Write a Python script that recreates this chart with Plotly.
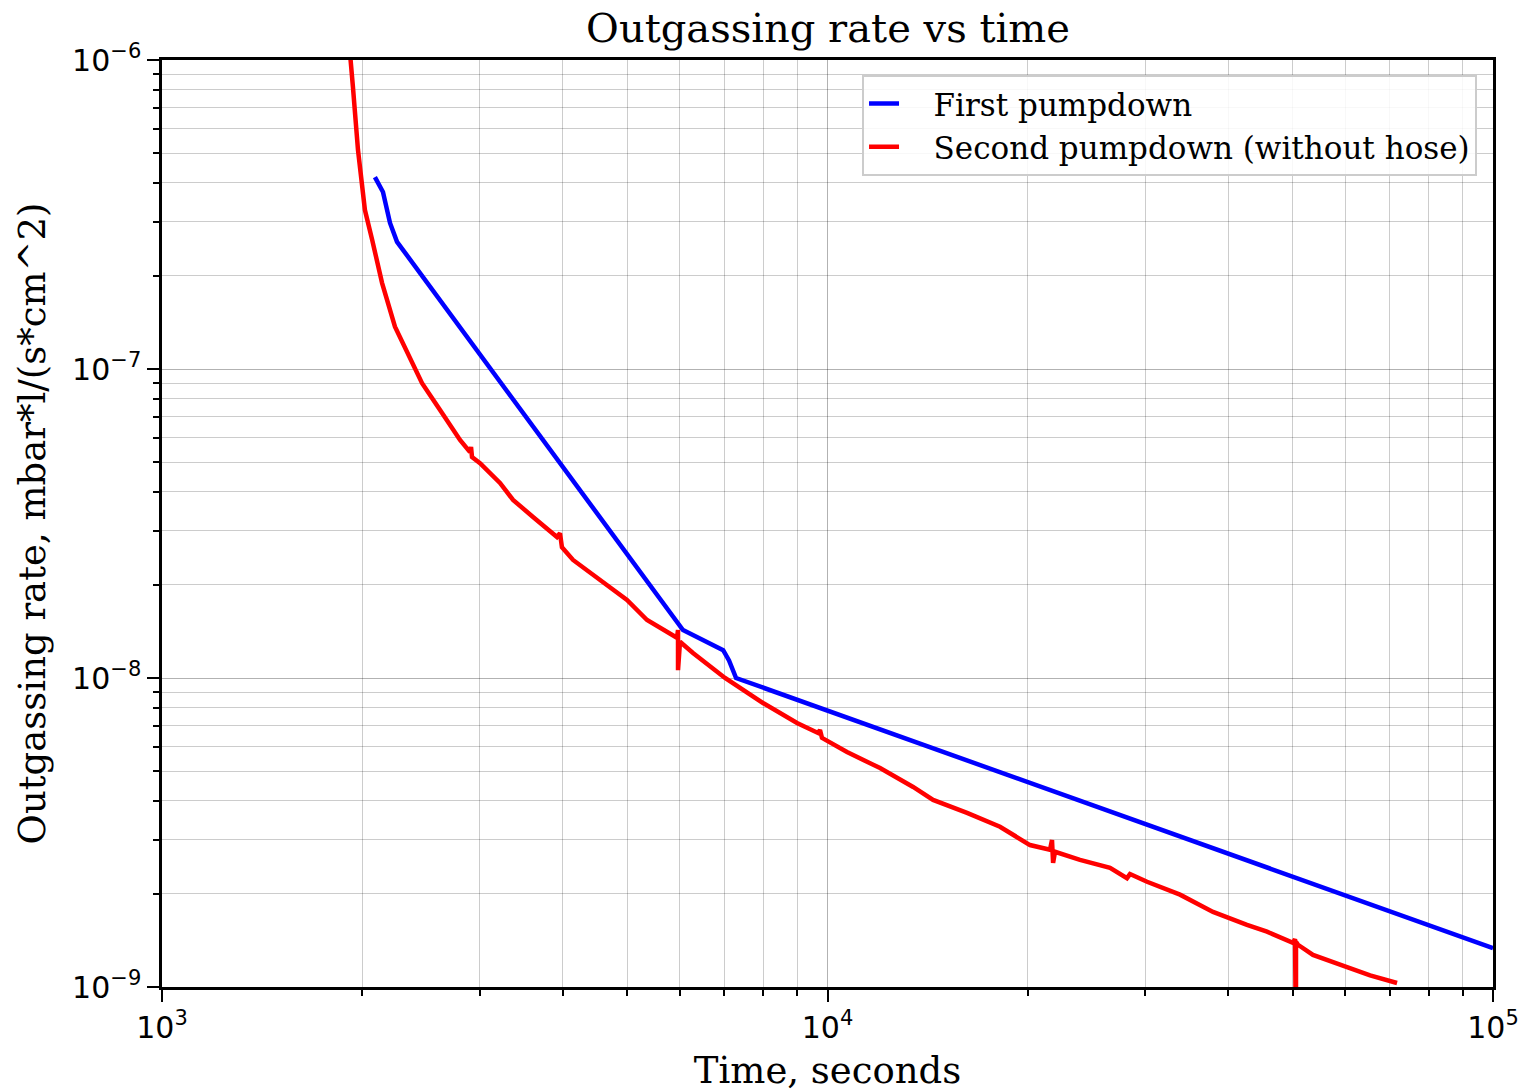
import plotly.graph_objects as go

# First pumpdown
t1 = [2089, 2148, 2201, 2255, 6065, 6970, 7112, 7288, 100000]
r1 = [4.18e-7, 3.74e-7, 2.97e-7, 2.58e-7, 1.43e-8, 1.23e-8, 1.14e-8, 1.0e-8, 1.336e-9]

# Second pumpdown (without hose)
t2 = [1903, 1917, 1936, 1970, 2018, 2069, 2141, 2239, 2334, 2459, 2617, 2804, 2903, 2913, 2923,
      3005, 3220, 3369, 3610, 3922, 3963, 3990, 4146, 4551, 4997, 5356, 5940, 5962, 5962, 6003,
      6279, 7015, 8000, 9000, 9677, 9744, 9810, 10698, 11994, 13448, 14410, 16206, 18163, 20150,
      21594, 21745, 21826, 21974, 23955, 26580, 28184, 28478, 30210, 33860, 36670, 37960, 42690,
      45750, 50060, 50410, 50580, 50580, 50930, 53640, 60350, 65360, 71750]
r2 = [1.25e-6, 1.0e-6, 8.18e-7, 5.12e-7, 3.27e-7, 2.62e-7, 1.90e-7, 1.37e-7, 1.13e-7, 9.0e-8,
      7.37e-8, 5.89e-8, 5.38e-8, 5.59e-8, 5.19e-8,
      4.96e-8, 4.28e-8, 3.77e-8, 3.32e-8, 2.86e-8, 2.94e-8, 2.65e-8, 2.41e-8, 2.08e-8, 1.79e-8,
      1.54e-8, 1.35e-8, 1.43e-8, 1.06e-8, 1.31e-8,
      1.205e-8, 1.0e-8, 8.3e-9, 7.15e-9, 6.64e-9, 6.79e-9, 6.40e-9, 5.76e-9, 5.11e-9, 4.44e-9,
      4.03e-9, 3.66e-9, 3.30e-9, 2.88e-9,
      2.78e-9, 2.99e-9, 2.52e-9, 2.74e-9, 2.58e-9, 2.43e-9, 2.25e-9, 2.32e-9, 2.19e-9, 1.99e-9,
      1.82e-9, 1.75e-9, 1.59e-9,
      1.51e-9, 1.39e-9, 1.43e-9, 6.3e-10, 1.40e-9, 1.37e-9, 1.27e-9, 1.16e-9, 1.09e-9, 1.03e-9]

x_ticks = [1e3, 1e4, 1e5]
x_tick_text = ["10<sup>3</sup>", "10<sup>4</sup>", "10<sup>5</sup>"]
y_ticks = [1e-9, 1e-8, 1e-7, 1e-6]
y_tick_text = ["10<sup>\u22129</sup>", "10<sup>\u22128</sup>", "10<sup>\u22127</sup>", "10<sup>\u22126</sup>"]
minor_mult = [2, 3, 4, 5, 6, 7, 8, 9]
x_minor = [m * d for d in [1e3, 1e4] for m in minor_mult]
y_minor = [m * d for d in [1e-9, 1e-8, 1e-7] for m in minor_mult]

FONT = "DejaVu Serif"
TICKFONT = "DejaVu Sans"
PAD = "\u00a0\u00a0\u00a0"

fig = go.Figure()
fig.add_trace(go.Scatter(x=t1, y=r1, mode="lines", name=PAD + "First pumpdown",
                         line=dict(color="#0000ff", width=4.5)))
fig.add_trace(go.Scatter(x=t2, y=r2, mode="lines", name=PAD + "Second pumpdown (without hose)",
                         line=dict(color="#ff0000", width=4.5)))

axis_common = dict(
    showline=True, linecolor="black", linewidth=2.5, mirror=True,
    ticks="outside", ticklen=12, tickwidth=2, tickcolor="black",
    showgrid=True, gridcolor="rgba(0,0,0,0.3)", gridwidth=1,
    zeroline=False, automargin=False,
    tickfont=dict(family=TICKFONT, size=30, color="black"),
)

fig.update_xaxes(type="log", range=[3, 5], tickvals=x_ticks, ticktext=x_tick_text,
                 minor=dict(tickvals=x_minor, ticks="outside", ticklen=6, tickwidth=1.5,
                            tickcolor="black", showgrid=True,
                            gridcolor="rgba(0,0,0,0.2)", gridwidth=1),
                 title=dict(text="Time, seconds", font=dict(family=FONT, size=37, color="black"),
                            standoff=14),
                 **axis_common)
fig.update_yaxes(type="log", range=[-9, -6], tickvals=y_ticks, ticktext=y_tick_text,
                 minor=dict(tickvals=y_minor, ticks="outside", ticklen=6, tickwidth=1.5,
                            tickcolor="black", showgrid=True,
                            gridcolor="rgba(0,0,0,0.2)", gridwidth=1),
                 title=dict(text="Outgassing rate, mbar*l/(s*cm^2)",
                            font=dict(family=FONT, size=37, color="black"), standoff=16),
                 **axis_common)

fig.update_layout(
    width=1527, height=1084,
    margin=dict(l=154, r=42, t=52, b=105),
    paper_bgcolor="white", plot_bgcolor="white",
    title=dict(text="Outgassing rate vs time", x=0.537, xanchor="center",
               y=0.982, yanchor="middle",
               font=dict(family=FONT, size=40, color="black")),
    legend=dict(x=0.988, y=0.984, xanchor="right", yanchor="top",
                bgcolor="rgba(255,255,255,0.85)", bordercolor="#cccccc", borderwidth=2,
                font=dict(family=FONT, size=31, color="black"),
                tracegroupgap=4),
    showlegend=True,
)

fig.write_html("out.html")
